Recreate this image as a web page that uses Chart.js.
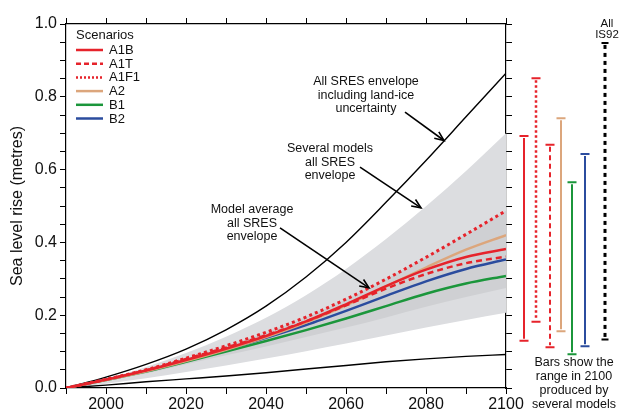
<!DOCTYPE html>
<html><head><meta charset="utf-8">
<script src="https://cdn.jsdelivr.net/npm/chart.js@4"></script>
<style>html,body{margin:0;padding:0;background:#fff}</style>
</head><body>
<canvas id="c" width="619" height="415"></canvas>
<script>
// ---------- DATA ----------
const years = [1990, 2000, 2010, 2020, 2030, 2040, 2050, 2060, 2070, 2080, 2090, 2100];

// envelopes
const severalModelsUpper = [0, 0.025, 0.058, 0.096, 0.141, 0.193, 0.255, 0.327, 0.409, 0.499, 0.596, 0.700];
const severalModelsLower = [0, 0.012, 0.027, 0.044, 0.062, 0.081, 0.101, 0.122, 0.144, 0.166, 0.187, 0.207];
const modelAverageUpper  = [0, 0.024, 0.050, 0.082, 0.116, 0.153, 0.195, 0.244, 0.299, 0.359, 0.422, 0.487];
const modelAverageLower  = [0, 0.020, 0.040, 0.065, 0.090, 0.114, 0.140, 0.166, 0.194, 0.223, 0.250, 0.275];
const landIceUpper       = [0, 0.030, 0.065, 0.107, 0.160, 0.225, 0.305, 0.400, 0.510, 0.625, 0.745, 0.865];
const landIceLower       = [0, 0.008, 0.017, 0.025, 0.033, 0.042, 0.052, 0.062, 0.072, 0.080, 0.087, 0.092];

// scenario model averages
const scenarioNames = ['A1B', 'A1T', 'A1F1', 'A2', 'B1', 'B2'];
const A1B  = [0, 0.023, 0.048, 0.077, 0.108, 0.143, 0.183, 0.230, 0.280, 0.325, 0.360, 0.382];
const A1T  = [0, 0.023, 0.049, 0.080, 0.111, 0.145, 0.183, 0.227, 0.273, 0.313, 0.343, 0.361];
const A1F1 = [0, 0.024, 0.050, 0.082, 0.116, 0.153, 0.195, 0.244, 0.299, 0.359, 0.422, 0.487];
const A2   = [0, 0.022, 0.046, 0.074, 0.105, 0.140, 0.180, 0.227, 0.279, 0.331, 0.380, 0.420];
const B1   = [0, 0.022, 0.045, 0.072, 0.100, 0.129, 0.159, 0.191, 0.225, 0.259, 0.287, 0.308];
const B2   = [0, 0.023, 0.047, 0.076, 0.106, 0.138, 0.173, 0.212, 0.253, 0.293, 0.327, 0.353];

// ranges in 2100 (bars)
const barNames = ['A1B', 'A1F1', 'A1T', 'A2', 'B1', 'B2', 'IS92'];
const barLow   = [0.130, 0.182, 0.112, 0.156, 0.093, 0.115, 0.133];
const barHigh  = [0.692, 0.851, 0.668, 0.741, 0.565, 0.643, 0.948];

// tick labels
const xTickLabels = [2000, 2020, 2040, 2060, 2080, 2100];
const yTickLabels = [0.0, 0.2, 0.4, 0.6, 0.8, 1.0];

// ---------- STYLE / LAYOUT ----------
const FONT = "'Liberation Sans', Arial, Helvetica, sans-serif";
const RED = '#e6232b', TAN = '#dca67c', GREEN = '#1b963b', BLUE = '#2b4c9e';
const styles = {
  A1B:  {color: RED, dash: [], width: 2.5},
  A1T:  {color: RED, dash: [6, 4], width: 2.5},
  A1F1: {color: RED, dash: [3, 3.2], width: 3},
  A2:   {color: TAN, dash: [], width: 2.5},
  B1:   {color: GREEN, dash: [], width: 2.5},
  B2:   {color: BLUE, dash: [], width: 2.5},
  IS92: {color: '#000', dash: [4, 4], width: 3}
};
const barOffsetsPx = [18, 30, 44, 55, 66, 79, 99];
const seriesMap = {A1B, A1T, A1F1, A2, B1, B2};
const pts = arr => years.map((y, i) => ({x: y, y: arr[i]}));

const base = {pointRadius: 0, pointHoverRadius: 0, cubicInterpolationMode: 'monotone', spanGaps: true};
const datasets = [
  {...base, label: 'env-outer-up', data: pts(severalModelsUpper), borderWidth: 0, borderColor: 'rgba(0,0,0,0)', backgroundColor: '#dcdde0', fill: '+1', order: 10},
  {...base, label: 'env-outer-lo', data: pts(severalModelsLower), borderWidth: 0, borderColor: 'rgba(0,0,0,0)', fill: false, order: 10},
  {...base, label: 'env-inner-up', data: pts(modelAverageUpper), borderWidth: 0, borderColor: 'rgba(0,0,0,0)', backgroundColor: '#cfd0d3', fill: '+1', order: 9},
  {...base, label: 'env-inner-lo', data: pts(modelAverageLower), borderWidth: 0, borderColor: 'rgba(0,0,0,0)', fill: false, order: 9},
  {...base, label: 'land-up', data: pts(landIceUpper), borderColor: '#000', borderWidth: 1.4, fill: false, order: 5},
  {...base, label: 'land-lo', data: pts(landIceLower), borderColor: '#000', borderWidth: 1.4, fill: false, order: 5}
];
// draw order: A1F1 on top
['B1', 'B2', 'A2', 'A1T', 'A1B', 'A1F1'].forEach((n, k) => {
  datasets.push({...base, label: n, data: pts(seriesMap[n]), borderColor: styles[n].color,
    borderWidth: styles[n].width, borderDash: styles[n].dash, borderCapStyle: 'butt', fill: false, order: 4 - k * 0.1});
});

// ---------- PLUGINS ----------
const legendPlugin = {
  id: 'scenLegend',
  afterDraw(chart) {
    const ctx = chart.ctx, L = chart.chartArea.left;
    ctx.save();
    ctx.font = '13px ' + FONT; ctx.fillStyle = '#111'; ctx.textBaseline = 'middle'; ctx.textAlign = 'left';
    ctx.fillText('Scenarios', L + 10, 35);
    scenarioNames.forEach((n, i) => {
      const y = 50 + i * 13.7, s = styles[n];
      ctx.strokeStyle = s.color; ctx.lineWidth = 2.5; ctx.setLineDash(n === 'A1F1' ? [2, 2] : n === 'A1T' ? [5, 3] : []);
      ctx.beginPath(); ctx.moveTo(L + 10, y); ctx.lineTo(L + 37, y); ctx.stroke();
      ctx.setLineDash([]);
      ctx.fillStyle = '#111'; ctx.fillText(n, L + 43, y + 0.5);
    });
    ctx.restore();
  }
};

const barsPlugin = {
  id: 'rangeBars',
  afterDraw(chart) {
    const ctx = chart.ctx, ys = chart.scales.y, R = chart.chartArea.right;
    ctx.save();
    barNames.forEach((n, i) => {
      const s = styles[n];
      const x = R + barOffsetsPx[i];
      const yLo = ys.getPixelForValue(barLow[i]), yHi = ys.getPixelForValue(barHigh[i]);
      ctx.strokeStyle = s.color;
      ctx.lineWidth = n === 'IS92' ? 3 : (n === 'A1F1' ? 2.5 : 2);
      ctx.setLineDash(n === 'A1F1' ? [2.5, 2.5] : n === 'A1T' ? [5, 3.5] : n === 'IS92' ? [4, 4] : []);
      ctx.beginPath(); ctx.moveTo(x, yHi + 2); ctx.lineTo(x, yLo - 2); ctx.stroke();
      ctx.setLineDash([]);
      const hw = n === 'IS92' ? 3.5 : 4.5;
      ctx.lineWidth = 2;
      ctx.beginPath();
      ctx.moveTo(x - hw, yHi); ctx.lineTo(x + hw, yHi);
      ctx.moveTo(x - hw, yLo); ctx.lineTo(x + hw, yLo);
      ctx.stroke();
    });
    ctx.font = '12.5px ' + FONT; ctx.fillStyle = '#111'; ctx.textAlign = 'center'; ctx.textBaseline = 'middle';
    ['Bars show the', 'range in 2100', 'produced by', 'several models'].forEach((t, i) => ctx.fillText(t, R + 68, 363 + i * 13.7));
    const xi = R + barOffsetsPx[6] + 2;
    ctx.font = '11.5px ' + FONT;
    ctx.fillText('All', xi, 24);
    ctx.fillText('IS92', xi, 35);
    ctx.restore();
  }
};

const annotations = [
  {lines: ['All SRES envelope', 'including land-ice', 'uncertainty'], at: [2065, 0.841], from: [2074.75, 0.758], to: [2084.5, 0.680]},
  {lines: ['Several models', 'all SRES', 'envelope'], at: [2056, 0.657], from: [2063.5, 0.607], to: [2078.75, 0.495]},
  {lines: ['Model average', 'all SRES', 'envelope'], at: [2036.5, 0.489], from: [2043.5, 0.440], to: [2065.75, 0.275]}
];
const annotPlugin = {
  id: 'annot',
  afterDatasetsDraw(chart) {
    const ctx = chart.ctx, xs = chart.scales.x, ys = chart.scales.y;
    ctx.save();
    ctx.font = '12.5px ' + FONT; ctx.textAlign = 'center'; ctx.textBaseline = 'middle';
    annotations.forEach(a => {
      const tx = xs.getPixelForValue(a.at[0]), ty = ys.getPixelForValue(a.at[1]);
      ctx.fillStyle = '#fff';
      a.lines.forEach((t, i) => {
        const w = ctx.measureText(t).width;
        ctx.fillRect(tx - w / 2 - 1, ty + i * 13.3 - 7, w + 2, 13.5);
      });
      ctx.fillStyle = '#111';
      a.lines.forEach((t, i) => ctx.fillText(t, tx, ty + i * 13.3));
      const x1 = xs.getPixelForValue(a.from[0]), y1 = ys.getPixelForValue(a.from[1]);
      const x2 = xs.getPixelForValue(a.to[0]), y2 = ys.getPixelForValue(a.to[1]);
      ctx.strokeStyle = '#000'; ctx.lineWidth = 1.6;
      ctx.beginPath(); ctx.moveTo(x1, y1); ctx.lineTo(x2, y2); ctx.stroke();
      const ang = Math.atan2(y2 - y1, x2 - x1), hl = 10, sp = 0.4;
      ctx.beginPath();
      ctx.moveTo(x2 - hl * Math.cos(ang - sp), y2 - hl * Math.sin(ang - sp));
      ctx.lineTo(x2, y2);
      ctx.lineTo(x2 - hl * Math.cos(ang + sp), y2 - hl * Math.sin(ang + sp));
      ctx.stroke();
    });
    ctx.restore();
  }
};

// ---------- AXES ----------
const tickFont = {family: FONT, size: 16};
const gridOpts = {drawOnChartArea: false, drawTicks: true, tickLength: 6, color: '#000', tickColor: '#000', lineWidth: 1};
const borderOpts = {display: true, color: '#000', width: 1.2};

new Chart(document.getElementById('c'), {
  type: 'line',
  data: {datasets},
  options: {
    responsive: false, animation: false, devicePixelRatio: 1,
    layout: {padding: 0},
    plugins: {legend: {display: false}, tooltip: {enabled: false}},
    scales: {
      x: {
        type: 'linear', position: 'bottom', min: 1990, max: 2100,
        grid: gridOpts, border: borderOpts,
        ticks: {stepSize: 10, autoSkip: false, maxRotation: 0, padding: 1, color: '#111', font: tickFont,
          callback: v => xTickLabels.includes(v) ? String(v) : ''},
        afterFit: s => { s.height = 27; }
      },
      x2: {
        type: 'linear', position: 'top', min: 1990, max: 2100,
        grid: gridOpts, border: borderOpts,
        ticks: {stepSize: 10, autoSkip: false, maxRotation: 0, callback: () => ''},
        afterFit: s => { s.height = 24; }
      },
      y: {
        type: 'linear', position: 'left', min: 0, max: 1.0,
        grid: gridOpts, border: borderOpts,
        ticks: {stepSize: 0.05, autoSkip: false, padding: 3, color: '#111', font: tickFont,
          callback: v => yTickLabels.some(t => Math.abs(v - t) < 1e-6) ? v.toFixed(1) : ''},
        title: {display: true, text: 'Sea level rise (metres)', color: '#111', font: {family: FONT, size: 16}, padding: {top: 8, bottom: 0}},
        afterFit: s => { s.width = 66; }
      },
      y2: {
        type: 'linear', position: 'right', min: 0, max: 1.0,
        grid: gridOpts, border: borderOpts,
        ticks: {stepSize: 0.05, autoSkip: false, callback: () => ''},
        afterFit: s => { s.width = 113; }
      }
    }
  },
  plugins: [annotPlugin, legendPlugin, barsPlugin]
});
</script>
</body></html>
